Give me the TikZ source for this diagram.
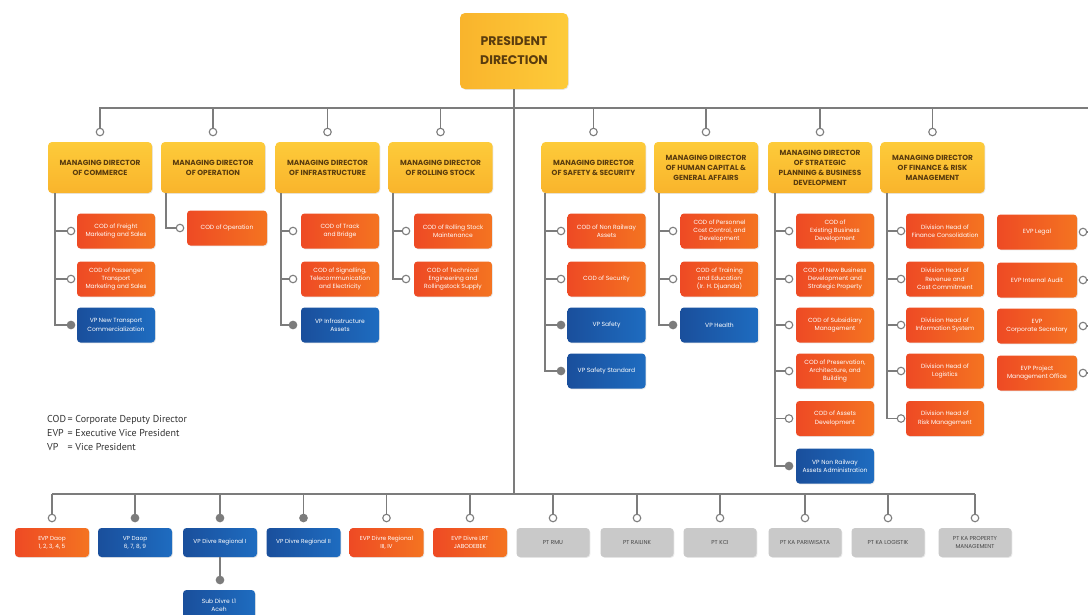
\documentclass[tikz,border=0pt]{standalone}
\usepackage{fontspec}
\setmainfont{Poppins}
\newfontfamily\legfont{PT Sans}
\usetikzlibrary{calc,shadows}
\definecolor{ln}{HTML}{7C7C7C}
\definecolor{orgL}{HTML}{EE4A24}
\definecolor{orgR}{HTML}{F47421}
\definecolor{bluL}{HTML}{1A4F9C}
\definecolor{bluR}{HTML}{1E6CC0}
\definecolor{yelT}{HTML}{FDCB3A}
\definecolor{yelB}{HTML}{F9B42C}
\definecolor{gry}{HTML}{C9C9C9}
\definecolor{gtxt}{HTML}{484848}
\definecolor{mdtxt}{HTML}{5A3C0E}
\definecolor{legtxt}{HTML}{333333}
\tikzset{
  shd/.style={drop shadow={opacity=0.18, shadow xshift=0.8pt, shadow yshift=-0.8pt}},
  boxbase/.style={rounded corners=3.5pt, align=center, inner sep=1pt, shd},
  ob/.style={boxbase, left color=orgL, right color=orgR, text=white,
     font=\fontsize{6.0}{8.4}\selectfont, minimum width=78, minimum height=35},
  bb/.style={boxbase, left color=bluL, right color=bluR, text=white,
     font=\fontsize{6.0}{8.4}\selectfont, minimum width=78, minimum height=35},
  gb/.style={boxbase, fill=gry, text=gtxt,
     font=\fontsize{5.7}{7.8}\selectfont, minimum width=73, minimum height=29},
  bot/.style={minimum width=74, minimum height=29, font=\fontsize{5.8}{7.8}\selectfont},
  mdb/.style={boxbase, rounded corners=4pt, top color=yelT, bottom color=yelB, text=mdtxt,
     font=\bfseries\fontsize{7.4}{10}\selectfont, minimum width=104, minimum height=51},
  presb/.style={boxbase, rounded corners=5pt, left color=yelB, right color=yelT, text=mdtxt,
     font=\bfseries\fontsize{12.5}{19}\selectfont, minimum width=108, minimum height=76},
  dot/.style={circle, draw=ln, fill=white, line width=1.1pt, minimum size=7.5, inner sep=0pt},
  fdot/.style={dot, fill=ln},
  conn/.style={draw=ln, line width=1.3pt},
}
\begin{document}
\begin{tikzpicture}[x=1pt,y=-1pt]
\useasboundingbox (0,0) rectangle (1088,614);
\clip (0,0) rectangle (1088,614);
\fill[white] (0,0) rectangle (1088,614);

% ---------- president ----------
\node[presb] (pres) at (514,51) {PRESIDENT\\DIRECTION};

% ---------- managing directors ----------
\node[mdb] (md1) at (100,167.5) {MANAGING DIRECTOR\\OF COMMERCE};
\node[mdb] (md2) at (213,167.5) {MANAGING DIRECTOR\\OF OPERATION};
\node[mdb] (md3) at (327.5,167.5) {MANAGING DIRECTOR\\OF INFRASTRUCTURE};
\node[mdb] (md4) at (440.5,167.5) {MANAGING DIRECTOR\\OF ROLLING STOCK};
\node[mdb] (md5) at (593.5,167.5) {MANAGING DIRECTOR\\OF SAFETY \& SECURITY};
\node[mdb] (md6) at (706,167.5) {MANAGING DIRECTOR\\OF HUMAN CAPITAL \&\\GENERAL AFFAIRS};
\node[mdb] (md7) at (820,167.5) {MANAGING DIRECTOR\\OF STRATEGIC\\PLANNING \& BUSINESS\\DEVELOPMENT};
\node[mdb] (md8) at (932.5,167.5) {MANAGING DIRECTOR\\OF FINANCE \& RISK\\MANAGEMENT};

\foreach \i/\x in {1/100,2/213,3/327.5,4/440.5,5/593.5,6/706,7/820,8/932.5}
  \node[dot] (t\i) at (\x,132) {};

\coordinate (busR) at (1090,108);
\draw[conn] (t1.north) |- (busR);
\foreach \i in {2,...,8} \draw[conn] (t\i |- busR) -- (t\i.north);

% ---------- commerce ----------
\coordinate (v1) at (55,193);
\node[ob] (k11) at (116,231) {COD of Freight\\Marketing and Sales};
\node[ob] (k12) at (116,279) {COD of Passenger\\Transport\\Marketing and Sales};
\node[bb] (k13) at (116,325) {VP New Transport\\Commercialization};
\node[dot] (c11) at (71,231) {};
\node[dot] (c12) at (71,279) {};
\node[fdot] (c13) at (71,325) {};
\draw[conn] (v1) |- (c13.west);
\draw[conn] (v1 |- c11) -- (c11.west);
\draw[conn] (v1 |- c12) -- (c12.west);

% ---------- operation ----------
\coordinate (v2) at (166,193);
\node[ob, minimum width=80] (k21) at (227,228) {COD of Operation};
\node[dot] (c21) at (180,228) {};
\draw[conn] (v2) |- (c21.west);

% ---------- infrastructure ----------
\coordinate (v3) at (281,193);
\node[ob] (k31) at (340,231) {COD of Track\\and Bridge};
\node[ob] (k32) at (340,279) {COD of Signalling,\\Telecommunication\\and Electricity};
\node[bb] (k33) at (340,325) {VP Infrastructure\\Assets};
\node[dot] (c31) at (293,231) {};
\node[dot] (c32) at (293,279) {};
\node[fdot] (c33) at (293,325) {};
\draw[conn] (v3) |- (c33.west);
\draw[conn] (v3 |- c31) -- (c31.west);
\draw[conn] (v3 |- c32) -- (c32.west);

% ---------- rolling stock ----------
\coordinate (v4) at (393,193);
\node[ob] (k41) at (453,231) {COD of Rolling Stock\\Maintenance};
\node[ob] (k42) at (453,279) {COD of Technical\\Engineering and\\Rollingstock Supply};
\node[dot] (c41) at (406,231) {};
\node[dot] (c42) at (406,279) {};
\draw[conn] (v4) |- (c42.west);
\draw[conn] (v4 |- c41) -- (c41.west);

% ---------- safety & security ----------
\coordinate (v5) at (545,193);
\node[ob] (k51) at (606.5,231) {COD of Non Railway\\Assets};
\node[ob] (k52) at (606.5,279) {COD of Security};
\node[bb] (k53) at (606.5,325) {VP Safety};
\node[bb] (k54) at (606.5,371) {VP Safety Standard};
\node[dot] (c51) at (561,231) {};
\node[dot] (c52) at (561,279) {};
\node[fdot] (c53) at (561,325) {};
\node[fdot] (c54) at (561,371) {};
\draw[conn] (v5) |- (c54.west);
\foreach \i in {1,2,3} \draw[conn] (v5 |- c5\i) -- (c5\i.west);

% ---------- human capital ----------
\coordinate (v6) at (659,193);
\node[ob] (k61) at (719.5,231) {COD of Personnel\\Cost Control, and\\Development};
\node[ob] (k62) at (719.5,279) {COD of Training\\and Education\\(Ir. H. Djuanda)};
\node[bb] (k63) at (719.5,325) {VP Health};
\node[dot] (c61) at (673,231) {};
\node[dot] (c62) at (673,279) {};
\node[fdot] (c63) at (673,325) {};
\draw[conn] (v6) |- (c63.west);
\foreach \i in {1,2} \draw[conn] (v6 |- c6\i) -- (c6\i.west);

% ---------- strategic planning ----------
\coordinate (v7) at (775,193);
\node[ob] (k71) at (835,231) {COD of\\Existing Business\\Development};
\node[ob] (k72) at (835,279) {COD of New Business\\Development and\\Strategic Property};
\node[ob] (k73) at (835,325) {COD of Subsidiary\\Management};
\node[ob] (k74) at (835,371) {COD of Preservation,\\Architecture, and\\Building};
\node[ob] (k75) at (835,418.5) {COD of Assets\\Development};
\node[bb] (k76) at (835,466) {VP Non Railway\\Assets Administration};
\foreach \i/\y in {1/231,2/279,3/325,4/371,5/418.5} \node[dot] (c7\i) at (789,\y) {};
\node[fdot] (c76) at (789,466) {};
\draw[conn] (v7) |- (c76.west);
\foreach \i in {1,...,5} \draw[conn] (v7 |- c7\i) -- (c7\i.west);

% ---------- finance ----------
\coordinate (v8) at (887,193);
\node[ob] (k81) at (945,231) {Division Head of\\Finance Consolidation};
\node[ob] (k82) at (945,279) {Division Head of\\Revenue and\\Cost Commitment};
\node[ob] (k83) at (945,325) {Division Head of\\Information System};
\node[ob] (k84) at (945,371) {Division Head of\\Logistics};
\node[ob] (k85) at (945,418.5) {Division Head of\\Risk Management};
\foreach \i/\y in {1/231,2/279,3/325,4/371,5/418.5} \node[dot] (c8\i) at (901,\y) {};
\draw[conn] (v8) |- (c85.west);
\foreach \i in {1,...,4} \draw[conn] (v8 |- c8\i) -- (c8\i.west);

% ---------- EVPs ----------
\coordinate (redge) at (1090,0);
\node[ob, minimum width=80] (e1) at (1037,232) {EVP Legal};
\node[ob, minimum width=80] (e2) at (1037,280) {EVP Internal Audit};
\node[ob, minimum width=80] (e3) at (1037,326) {EVP\\Corporate Secretary};
\node[ob, minimum width=80] (e4) at (1037,373) {EVP Project\\Management Office};
\foreach \i/\y in {1/232,2/280,3/326,4/373} {
  \node[dot] (ce\i) at (1083,\y) {};
  \draw[conn] (ce\i.east) -- (ce\i -| redge);
}

% ---------- legend ----------
\node[anchor=north west, inner sep=0pt, text=legtxt, font=\legfont\fontsize{10}{14}\selectfont] (leg) at (47,412)
  {\begin{tabular}{@{}l@{\,}l@{}}COD & = Corporate Deputy Director\\EVP & = Executive Vice President\\VP & = Vice President\end{tabular}};

% ---------- bottom row ----------
\coordinate (bl) at (52,494);
\coordinate (br) at (975,494);
\draw[conn] (pres.south) -- (pres.south |- bl);
\draw[conn] (bl) -- (br);
\node[ob, bot] (b1) at (52,542.5) {EVP Daop\\1, 2, 3, 4, 5};
\node[bb, bot] (b2) at (135,542.5) {VP Daop\\6, 7, 8, 9};
\node[bb, bot] (b3) at (220,542.5) {VP Divre Regional I};
\node[bb, bot] (b4) at (303.5,542.5) {VP Divre Regional II};
\node[ob, bot] (b5) at (386.5,542.5) {EVP Divre Regional\\III, IV};
\node[ob, bot] (b6) at (470,542.5) {EVP Divre LRT\\JABODEBEK};
\node[gb] (b7) at (553,542.5) {PT RMU};
\node[gb] (b8) at (637,542.5) {PT RAILINK};
\node[gb] (b9) at (720,542.5) {PT KCI};
\node[gb] (b10) at (805,542.5) {PT KA PARIWISATA};
\node[gb] (b11) at (888,542.5) {PT KA LOGISTIK};
\node[gb] (b12) at (975,542.5) {PT KA PROPERTY\\MANAGEMENT};
\foreach \i/\s in {1/dot,2/fdot,3/fdot,4/fdot,5/dot,6/dot,7/dot,8/dot,9/dot,10/dot,11/dot,12/dot} {
  \node[\s] (bc\i) at (b\i.center |- 0,518) {};
  \draw[conn] (bc\i |- bl) -- (bc\i.north);
}
\node[fdot] (sc) at (220,580) {};
\node[bb, minimum width=72, minimum height=30] (sub) at (219,605) {Sub Divre I.1\\Aceh};
\draw[conn] (b3.south) -- (sc.north);
\end{tikzpicture}
\end{document}
